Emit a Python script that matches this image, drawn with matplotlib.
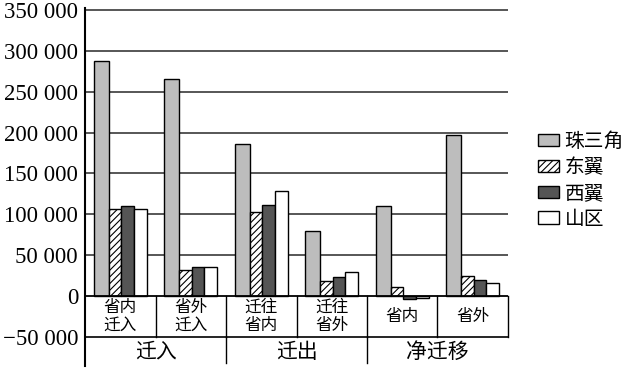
import matplotlib.pyplot as plt
from matplotlib.patches import Patch

plt.rcParams['font.family'] = ['Noto Sans CJK SC', 'DejaVu Sans']
plt.rcParams['hatch.linewidth'] = 0.8

# data
sub_labels = ["省内\n迁入", "省外\n迁入", "迁往\n省内", "迁往\n省外", "省内", "省外"]
group_labels = ["迁入", "迁出", "净迁移"]
regions = ["珠三角", "东翼", "西翼", "山区"]
zhusanjiao = [287000, 266000, 186000, 80000, 110000, 197000]
dongyi = [106000, 32000, 103000, 18000, 10500, 25000]
xiyi = [110000, 36000, 111000, 23000, -3500, 20000]
shanqu = [107000, 36000, 128000, 29000, -3000, 15500]
yticks = [-50000, 0, 50000, 100000, 150000, 200000, 250000, 300000, 350000]

series = [zhusanjiao, dongyi, xiyi, shanqu]
colors = ["#bdbdbd", "white", "#555555", "white"]
hatches = [None, "/////", None, None]
widths = [0.21, 0.18, 0.18, 0.18]

fig = plt.figure(figsize=(6.27, 3.73), dpi=100)
ax = fig.add_axes([85 / 627, 7 / 373, (508 - 85) / 627, 358 / 373])

ymin, ymax = -85664, 352448
ax.set_xlim(-0.5, 5.5)
ax.set_ylim(ymin, ymax)

# grid lines
for v in yticks[2:]:
    ax.axhline(v, color="#3a3a3a", lw=1.2, zorder=0)
ax.axhline(0, color="black", lw=1.3, zorder=3)

# bars
start = -sum(widths) / 2
x = list(range(len(sub_labels)))
for s, col, h, w in zip(series, colors, hatches, widths):
    offs = start + w / 2
    ax.bar([i + offs for i in x], s, width=w, color=col, hatch=h,
           edgecolor="black", linewidth=1.0, zorder=2)
    start += w

# category table under the axis
ax.axhline(-50000, color="black", lw=1.2, zorder=3)
for b in [0.5, 1.5, 2.5, 3.5, 4.5, 5.5]:
    ax.plot([b, b], [0, -50000], color="black", lw=1.0, clip_on=False)
for b in [1.5, 3.5]:
    ax.plot([b, b], [-50000, ymin + 4000], color="black", lw=1.0)
for i, lab in enumerate(sub_labels):
    ax.text(i, -25000, lab, ha="center", va="center", fontsize=12,
            linespacing=1.05)
for g, lab in enumerate(group_labels):
    ax.text(2 * g + 0.5, -68500, lab, ha="center", va="center", fontsize=15)

# axes styling
for sp in ["top", "right", "bottom"]:
    ax.spines[sp].set_visible(False)
ax.spines["left"].set_linewidth(1.5)
ax.set_xticks([])
ax.set_yticks(yticks)
ax.set_yticklabels([f"{v:,}".replace(",", " ").replace("-", "\u2212") for v in yticks],
                   fontfamily="Liberation Serif", fontsize=16.4)
ax.tick_params(axis="y", length=0, pad=5)

handles = [Patch(facecolor=c, edgecolor="black", hatch=h, linewidth=1.0)
           for c, h in zip(colors, hatches)]
fig.legend(handles, regions, loc="upper left", bbox_to_anchor=(528 / 627, 1 - 121 / 373),
           frameon=False, fontsize=14.2, handlelength=1.05, handleheight=0.6,
           handletextpad=0.3, labelspacing=0.25, borderpad=0)

fig.savefig("out.png", dpi=100)
